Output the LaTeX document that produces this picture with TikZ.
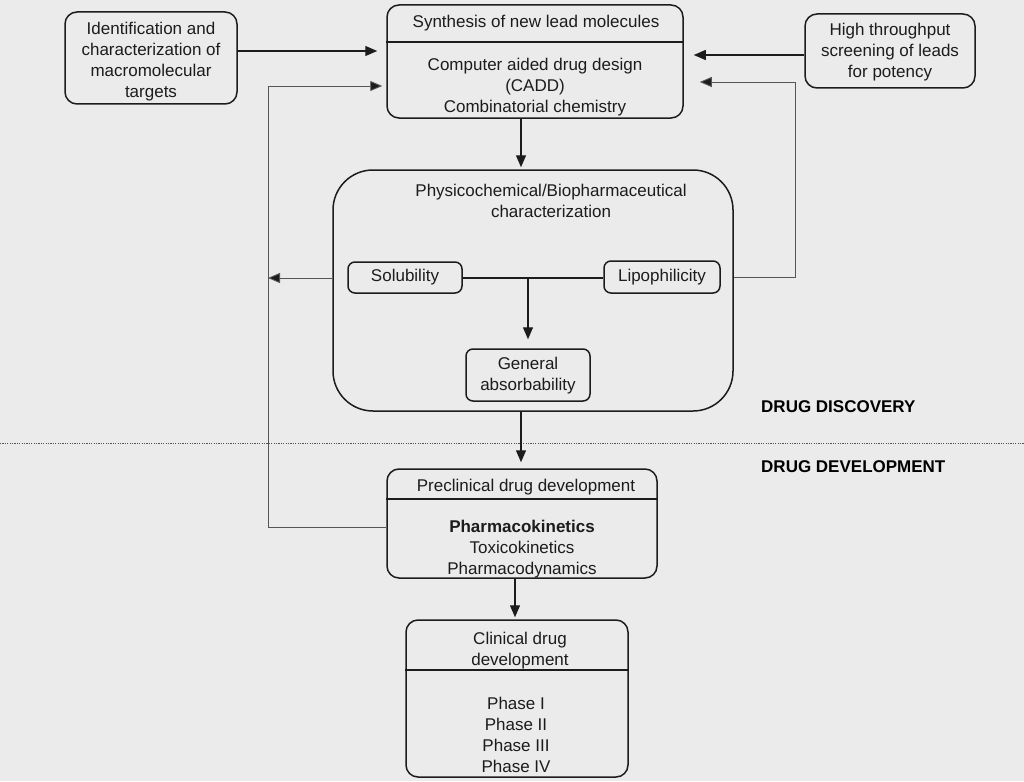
\documentclass[tikz,border=0pt]{standalone}
\usepackage{fontspec}
\setmainfont{Liberation Sans}
\usetikzlibrary{arrows.meta}
\definecolor{bgc}{HTML}{EBEBEB}
\definecolor{ink}{HTML}{1C1C1C}
\definecolor{fbc}{HTML}{555555}
\begin{document}
\begin{tikzpicture}[x=1pt,y=-1pt,
  box/.style={draw=ink, line width=1.5pt, rounded corners=12pt, inner sep=0pt},
  smallbox/.style={box, rounded corners=7pt},
  txt/.style={align=center, inner sep=0pt, font=\fontsize{17}{21}\selectfont, text=ink},
  lab/.style={inner sep=0pt, font=\bfseries\fontsize{17}{21}\selectfont, text=black, anchor=west},
  divider/.style={draw=ink, line width=1.5pt},
  arr/.style={-{Triangle[length=12pt,width=10pt]}, line width=1.3pt, draw=ink, fill=ink},
  link/.style={line width=1.4pt, draw=ink},
  fb/.style={line width=0.9pt, draw=fbc},
  fbarr/.style={fb, -{Triangle[length=12pt,width=10pt,fill=ink]}},
  sep/.style={draw=fbc, line width=1pt, dash pattern=on 1.2pt off 1.2pt}
]
\fill[bgc] (0,0) rectangle (1024,781);
\useasboundingbox (0,0) rectangle (1024,781);

% boxes
\node[box, minimum width=172pt, minimum height=92pt] (ident) at (151,58) {};
\node[txt] (identt) at (151,61.5) {Identification and\\characterization of\\macromolecular\\targets};

\node[box, minimum width=296pt, minimum height=113pt] (synth) at (535,61.5) {};
\draw[divider] (synth.west |- 0,42) -- (synth.east |- 0,42);
\node[txt] (syntht) at (536,23) {Synthesis of new lead molecules};
\node[txt] (synthb) at (535,87) {Computer aided drug design\\(CADD)\\Combinatorial chemistry};

\node[box, minimum width=170pt, minimum height=74pt] (high) at (890,51) {};
\node[txt] (hight) at (890,52) {High throughput\\screening of leads\\for potency};

\node[box, rounded corners=40pt, minimum width=400pt, minimum height=241pt] (phy) at (533,290.5) {};
\node[txt] (phyt) at (551,200.5) {Physicochemical/Biopharmaceutical\\characterization};

\node[smallbox, minimum width=114pt, minimum height=31pt] (sol) at (405,277.5) {};
\node[txt] (solt) at (405,277.5) {Solubility};
\node[smallbox, minimum width=116pt, minimum height=32pt] (lipo) at (662,277) {};
\node[txt] (lipot) at (662,277) {Lipophilicity};
\node[smallbox, minimum width=124pt, minimum height=52pt] (gen) at (528,375) {};
\node[txt] (gent) at (528,376) {General\\absorbability};

\node[box, minimum width=270pt, minimum height=109pt] (precl) at (522,523.5) {};
\draw[divider] (precl.west |- 0,499) -- (precl.east |- 0,499);
\node[txt] (preclt) at (526,487) {Preclinical drug development};
\node[txt] (preclb) at (522,549.5) {\textbf{Pharmacokinetics}\\Toxicokinetics\\Pharmacodynamics};

\node[box, minimum width=222pt, minimum height=157pt] (clin) at (517,698.5) {};
\draw[divider] (clin.west |- 0,670) -- (clin.east |- 0,670);
\node[txt] (clint) at (520,650.5) {Clinical drug\\development};
\node[txt] (clinb) at (516,734.5) {Phase I\\Phase II\\Phase III\\Phase IV};

% section separator and labels
\coordinate (sepl) at (0,443);
\coordinate (sepr) at (1024,443);
\draw[sep] (sepl) -- (sepr);
\node[lab] (disc) at (761,407) {DRUG DISCOVERY};
\node[lab] (dev) at (761,467) {DRUG DEVELOPMENT};

% main connectors
\draw[arr, shorten >=9pt] (ident.east |- 0,51) -- (synth.west |- 0,51);
\draw[arr, shorten >=10pt] (high.west |- 0,55) -- (synth.east |- 0,55);
\draw[arr, shorten >=2pt] (synth.south -| 521,0) -- (phy.north -| 521,0);
\draw[link] (sol.east |- 0,278) -- (lipo.west |- 0,278);
\draw[arr, shorten >=9pt] (sol.east -| gen.north) -- (gen.north);
\draw[arr, shorten >=6pt] (phy.south -| 521,0) -- (precl.north -| 521,0);
\draw[arr, shorten >=2pt] (precl.south -| 515,0) -- (clin.north -| 515,0);

% feedback connectors
\coordinate (fl) at (268,86);
\coordinate (fr) at (795,82);
\draw[fb] (precl.west |- 0,527) -| (fl);
\draw[fbarr, shorten >=4pt] (fl) -- (synth.west |- fl);
\draw[fbarr] (phy.west |- 0,278) -- (fl |- 0,278);
\draw[fb] (phy.east |- 0,277) -| (fr);
\draw[fbarr, shorten >=16pt] (fr) -- (synth.east |- fr);
\end{tikzpicture}
\end{document}
